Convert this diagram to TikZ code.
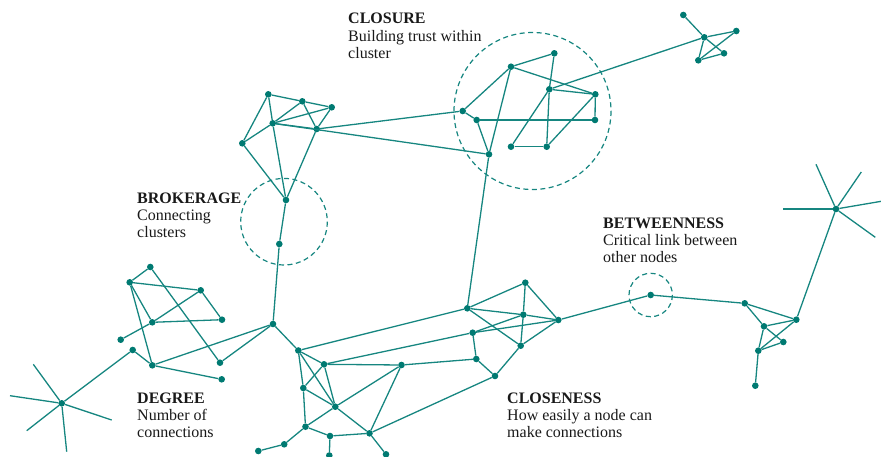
\documentclass[tikz,border=0pt]{standalone}
\usepackage{fontspec}
\setmainfont{Liberation Serif}
\begin{document}
\definecolor{edgeteal}{RGB}{22,134,128}
\definecolor{nodeteal}{RGB}{0,122,114}
\definecolor{inkdark}{RGB}{25,25,25}
\begin{tikzpicture}[x=1pt,y=-1pt,
  dot/.style={circle,fill=nodeteal,draw=none,inner sep=0pt,minimum size=6.6pt},
  link/.style={draw=edgeteal,line width=1.3pt},
  ray/.style={draw=edgeteal,line width=1.3pt},
  zone/.style={draw=edgeteal,line width=1.2pt,dash pattern=on 5pt off 3.5pt},
  headline/.style={anchor=base west,inner sep=0pt,text=inkdark,font=\fontsize{16}{18}\selectfont\bfseries},
  caption/.style={anchor=base west,inner sep=0pt,text=inkdark,font=\fontsize{16}{18}\selectfont}]
\useasboundingbox (0,0) rectangle (881,456);
\begin{scope}
\clip (0,0) rectangle (881,456);

% highlighted zones
\draw[zone] (284,221.7) circle (43.3);
\draw[zone] (532.5,111) circle (78.5);
\draw[zone] (650.7,295) circle (21.7);

% upper-left cluster
\node[dot] (a1) at (268.3,94.3) {};
\node[dot] (a2) at (302.3,101.3) {};
\node[dot] (a3) at (331.7,107.3) {};
\node[dot] (a4) at (272.7,123.3) {};
\node[dot] (a5) at (316.7,129) {};
\node[dot] (a6) at (242.3,143.3) {};
\node[dot] (b1) at (286,200) {};
\node[dot] (b2) at (279.3,244) {};

% closure cluster
\node[dot] (c1) at (511,66.7) {};
\node[dot] (c2) at (554.3,53.3) {};
\node[dot] (c3) at (462.7,111) {};
\node[dot] (c4) at (476.7,120) {};
\node[dot] (c5) at (549.3,89.3) {};
\node[dot] (c6) at (595.3,94.3) {};
\node[dot] (c7) at (595,120) {};
\node[dot] (c8) at (511,146.7) {};
\node[dot] (c9) at (546.7,146.7) {};
\node[dot] (c10) at (489,154.3) {};

% top-right cluster
\node[dot] (e0) at (683.3,15) {};
\node[dot] (e1) at (704.3,37.3) {};
\node[dot] (e2) at (736.3,31) {};
\node[dot] (e3) at (724,53.3) {};
\node[dot] (e4) at (698.3,60.3) {};

% left cluster
\node[dot] (g1) at (150.3,267) {};
\node[dot] (g2) at (129.7,282.3) {};
\node[dot] (g3) at (200.7,290.3) {};
\node[dot] (g4) at (152.3,322.3) {};
\node[dot] (g5) at (222,319.7) {};
\node[dot] (g6) at (120.7,339.7) {};
\node[dot] (g7) at (132.7,350) {};
\node[dot] (g8) at (152.3,365.3) {};
\node[dot] (g9) at (220,362.7) {};
\node[dot] (g10) at (221.7,379.3) {};
\node[dot] (d) at (273,324) {};

% degree hub (lower left)
\node[dot] (h) at (61.7,403.3) {};
\coordinate (h1) at (33.3,364.3);
\coordinate (h2) at (10,395.7);
\coordinate (h3) at (26.7,430.7);
\coordinate (h4) at (66.7,451.7);
\coordinate (h5) at (111.7,420);

% lower-middle cluster
\node[dot] (j1) at (298.3,350.5) {};
\node[dot] (j2) at (324,364.3) {};
\node[dot] (j3) at (401.5,365) {};
\node[dot] (j4) at (303.3,388) {};
\node[dot] (j5) at (335.3,406.7) {};
\node[dot] (j6) at (305.5,426.7) {};
\node[dot] (j7) at (330,436) {};
\node[dot] (j8) at (369.5,433.3) {};
\node[dot] (j9) at (284.2,444.3) {};
\node[dot] (j10) at (258.3,451) {};
\node[dot] (j11) at (329.3,455.5) {};
\node[dot] (j12) at (386,454.3) {};

% closeness cluster
\node[dot] (k1) at (467.3,308.3) {};
\node[dot] (k2) at (525.3,282.7) {};
\node[dot] (k3) at (523.3,314.7) {};
\node[dot] (k4) at (558.3,320) {};
\node[dot] (k5) at (472.7,332.7) {};
\node[dot] (k6) at (520.7,345.7) {};
\node[dot] (k7) at (476.3,359) {};
\node[dot] (k8) at (495,376) {};

% betweenness bridge and right cluster
\node[dot] (l1) at (650.7,295) {};
\node[dot] (l2) at (744.7,303.3) {};
\node[dot] (l3) at (764,326.3) {};
\node[dot] (l4) at (796.3,319.7) {};
\node[dot] (l5) at (783.3,342) {};
\node[dot] (l6) at (758.3,350.7) {};
\node[dot] (l7) at (755.3,385.7) {};

% right hub
\node[dot] (m) at (836,209) {};
\coordinate (m1) at (816,164.3);
\coordinate (m2) at (861.3,172);
\coordinate (m3) at (883,201);
\coordinate (m4) at (875.3,237.3);
\coordinate (m5) at (783.3,209);

\begin{scope}[on background layer/.try]
\foreach \p/\q in {a1/a2,a2/a3,a1/a4,a1/a6,a2/a4,a2/a5,a3/a4,a3/a5,a4/a5,a4/a6,
  a6/b1,a4/b1,a5/b1,b1/b2,b2/d,a5/c3,a4/c10,
  c1/c2,c2/c5,c5/c9,c5/c6,c5/c8,c5/e1,c1/c6,c1/c3,c1/c10,c6/c7,c6/c9,c8/c9,
  c3/c4,c4/c7,c4/c10,c10/k1,
  e0/e1,e1/e2,e1/e3,e1/e4,e2/e4,e3/e4,
  g1/g2,g1/g9,g2/g3,g2/g4,g2/g8,g3/g4,g3/g5,g4/g5,g4/g6,g7/g8,g8/g10,g8/d,g9/d,g7/h,
  d/j1,j1/j2,j1/j4,j1/j5,j1/k1,j2/j3,j2/j4,j2/j5,j2/k5,j3/j5,j3/j8,j3/k7,
  j4/j5,j4/j6,j5/j6,j5/j8,j6/j7,j6/j9,j9/j10,j7/j8,j7/j11,j8/j12,j8/k8,
  k1/k2,k1/k3,k3/k4,k1/k6,k2/k3,k3/k6,k2/k4,k5/k3,k5/k4,k6/k4,k5/k7,k7/k8,k8/k6,k4/l1,
  l1/l2,l2/l3,l2/l4,l3/l4,l3/l5,l3/l6,l4/l6,l5/l6,l6/l7,l4/m}
  {\draw[link] (\p) -- (\q);}
\foreach \r in {h1,h2,h3,h4,h5} {\draw[ray] (h) -- (\r);}
\foreach \r in {m1,m2,m3,m4,m5} {\draw[ray] (m) -- (\r);}
\end{scope}
\end{scope}

% labels
\node[headline] (closT) at (348,23.5) {CLOSURE};
\node[caption] (closA) at (348,41) {Building trust within};
\node[caption] (closB) at (348,58) {cluster};

\node[headline] (brokT) at (137,203) {BROKERAGE};
\node[caption] (brokA) at (137,220.5) {Connecting};
\node[caption] (brokB) at (137,237.5) {clusters};

\node[headline] (betwT) at (603,228) {BETWEENNESS};
\node[caption] (betwA) at (603,245.5) {Critical link between};
\node[caption] (betwB) at (603,262.5) {other nodes};

\node[headline] (degT) at (137,403) {DEGREE};
\node[caption] (degA) at (137,420.5) {Number of};
\node[caption] (degB) at (137,437.5) {connections};

\node[headline] (closeT) at (507,403) {CLOSENESS};
\node[caption] (closeA) at (507,420.5) {How easily a node can};
\node[caption] (closeB) at (507,437.5) {make connections};
\end{tikzpicture}
\end{document}
